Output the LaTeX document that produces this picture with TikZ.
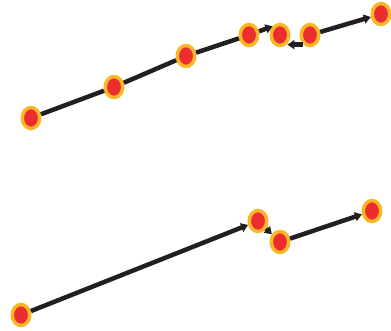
\documentclass[tikz,border=0pt]{standalone}
\usepackage{xcolor}
\usepackage{tikz}
\usetikzlibrary{arrows.meta,shapes.geometric}
\definecolor{dotfill}{HTML}{EC2D2F}
\definecolor{dotring}{HTML}{F9B625}
\definecolor{linkink}{HTML}{231F20}

\begin{document}
\begin{tikzpicture}[x=1pt, y=-1pt,
    dot/.style={ellipse, draw=dotring, fill=dotfill, line width=3.5pt, minimum width=17.5pt, minimum height=21pt, inner sep=0pt},
    link/.style={draw=linkink, line width=4.5pt},
    arrowlink/.style={link, -{Triangle[length=7pt,width=9pt]}}]
  \useasboundingbox (0,0) rectangle (391,331);
  % upper chain
  \node[dot] (a1) at (31,118) {};
  \node[dot] (a2) at (114,87) {};
  \node[dot] (a3) at (186,56) {};
  \node[dot] (a4) at (249,35) {};
  \node[dot] (a5) at (280,35) {};
  \node[dot] (a6) at (310,35) {};
  \node[dot] (a7) at (381,14) {};
  % lower chain
  \node[dot] (b1) at (21,315) {};
  \node[dot] (b2) at (258,221) {};
  \node[dot] (b3) at (280,242) {};
  \node[dot] (b4) at (372,211) {};
  \draw[link] (a1) -- (a2);
  \draw[link] (a2) -- (a3);
  \draw[link] (a3) -- (a4);
  \draw[arrowlink] (a4) -- (a5.north west);
  \draw[arrowlink] ([yshift=-1pt]a6.south west) -- ([yshift=-1pt]a5.south east);
  \draw[arrowlink] (a6) -- (a7);
  \draw[arrowlink] (b1) -- (b2);
  \draw[arrowlink] (b2) -- (b3);
  \draw[arrowlink] (b3) -- (b4);
\end{tikzpicture}
\end{document}
